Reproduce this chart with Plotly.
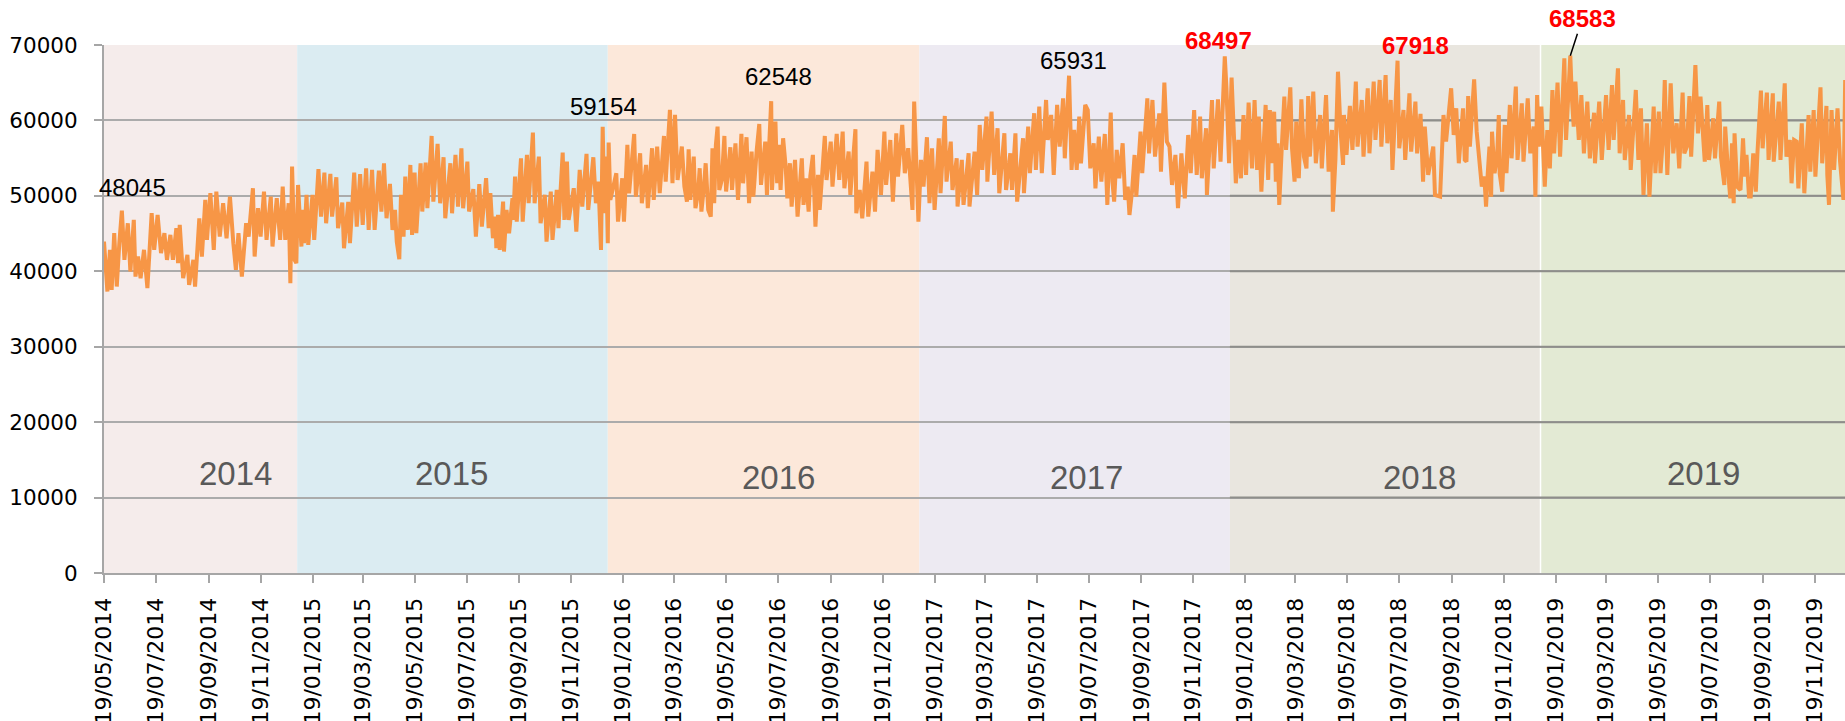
import pandas as pd
import plotly.graph_objects as go

START = pd.Timestamp("2014-05-19")

# ---- data: day offset from START and daily value (local extremes)
days_a = [0, 4, 7, 9, 12, 15, 18, 21, 24, 28, 31, 35, 37, 40, 43, 47, 51, 56, 59, 63,
          67, 71, 74, 78, 81, 85, 87, 89, 93, 98, 100, 105, 107, 112, 115, 119, 121, 125, 129, 132,
          136, 140, 144, 148, 152, 155, 158, 162, 167, 170, 175, 177, 181, 184, 188, 191, 196, 198, 203, 207,
          210, 213, 217, 219, 221, 224]
vals_a = [43940, 37320, 42840, 37540, 45050, 37980, 43720, 48045, 41510, 46370, 39970, 46810, 39300, 41950, 39080, 42840, 37760, 47700, 42840, 47480,
          42400, 45050, 41510, 44830, 41510, 45710, 41070, 46150, 39080, 42180, 38200, 41510, 37980, 47030, 41950, 49460, 44160, 50350, 42840, 50570,
          44600, 49020, 44380, 49900, 43720, 40190, 45050, 39300, 46370, 44600, 51010, 41960, 48360, 44600, 50570, 44160, 49900, 43280, 49680, 44160,
          51230, 44160, 49020, 38420, 53880, 41510]

days_b = [226, 228, 232, 233, 235, 238, 240, 245, 247, 252, 255, 259, 261, 266, 268, 273, 275, 280, 282, 287,
          289, 294, 297, 301, 304, 308, 311, 315, 318, 323, 326, 329, 332, 336, 339, 342, 344, 347, 349, 352,
          354, 357, 360, 362, 365, 367, 372, 374, 378, 380, 385, 387, 392, 395, 399, 401, 407, 409, 413, 416,
          420, 422, 427, 429, 434, 437, 441, 444, 449, 452]
vals_b = [41070, 51450, 43280, 48140, 43720, 50130, 43500, 50130, 44160, 53530, 47250, 53090, 46370, 52910, 47250, 52470, 45710, 49110, 43060, 49200,
          43720, 53090, 45930, 52870, 46150, 53660, 45490, 53440, 45490, 53350, 47920, 54320, 47030, 51580, 45490, 48140, 43940, 41600, 50130, 44600,
          52560, 45490, 54100, 44830, 53090, 45050, 54320, 47920, 54410, 48360, 57940, 49240, 56880, 49020, 55120, 47030, 54320, 47690, 55430, 48580,
          56310, 48360, 54540, 47920, 50880, 44600, 51540, 45930, 52340, 45710]

days_c = [454, 457, 460, 461, 463, 465, 469, 470, 473, 476, 480, 481, 483, 485, 490, 492, 497, 499, 504, 506,
          511, 513, 518, 520, 525, 527, 532, 534, 539, 541, 544, 546, 552, 555, 559, 562, 567, 569, 575, 578,
          581, 584, 586, 588, 590, 592, 593, 595, 602, 604, 609, 611, 615, 617, 623, 625, 630, 632, 637, 639,
          644, 646, 650, 653, 658, 660, 665, 668, 671, 674, 679, 682]
vals_c = [50350, 44380, 47250, 43060, 47470, 42840, 49240, 42620, 48140, 45050, 49680, 46810, 52560, 46590, 54980, 46590, 55430, 49020, 58390, 49020,
          55210, 46370, 50130, 43940, 50570, 44160, 50790, 45710, 55740, 46810, 54540, 46810, 51010, 45270, 53440, 48580, 55560, 48140, 55120, 49020,
          51890, 42840, 59154, 47690, 55210, 43720, 57060, 49460, 53000, 46590, 52330, 46590, 56750, 50350, 58210, 49900, 55650, 49020, 54100, 48360,
          56310, 49460, 56530, 50350, 57940, 51890, 61390, 51670, 60730, 52110, 56530, 51230]

days_d = [685, 687, 689, 693, 695, 698, 700, 702, 705, 707, 710, 713, 715, 717, 719, 721, 723, 726, 729, 731,
          736, 738, 742, 745, 749, 751, 755, 758, 761, 763, 767, 770, 772, 777, 779, 784, 785, 789, 791, 793,
          795, 798, 801, 803, 806, 808, 812, 815, 820, 822, 825, 828, 830, 833, 836, 839, 841, 847, 849, 854,
          856, 861, 864, 868, 870, 875, 877, 883, 884, 888, 891, 896, 898, 903, 906, 909, 912]
vals_d = [49240, 56180, 49460, 55200, 48360, 50350, 53660, 47920, 51230, 54320, 48140, 47250, 56310, 49020, 56750, 59180, 50790, 52110, 57940, 50570,
          56440, 50790, 56970, 49460, 58210, 51670, 57770, 49020, 55870, 49900, 56090, 59530, 51450, 57190, 50130, 62548, 50790, 59840, 51670, 56750,
          50790, 57640, 53880, 49680, 54320, 48580, 54760, 47250, 54980, 48800, 52330, 47920, 52640, 55430, 45930, 52780, 48140, 57940, 52110, 57190,
          51230, 58210, 52110, 58520, 51010, 55870, 50130, 58830, 47690, 50790, 47030, 54540, 47250, 53220, 47920, 56090, 51890]

days_e = [913, 917, 919, 924, 927, 931, 933, 938, 941, 945, 950, 952, 955, 957, 960, 963, 967, 970, 973, 976,
          981, 983, 988, 990, 995, 997, 1002, 1003, 1008, 1010, 1016, 1017, 1023, 1026, 1029, 1032, 1037, 1038, 1043, 1046,
          1050, 1052, 1058, 1060, 1065, 1067, 1071, 1073, 1080, 1081, 1086, 1088, 1093, 1095, 1099, 1102, 1107, 1109, 1113, 1116,
          1120, 1123, 1127, 1129, 1134, 1137, 1140]
vals_e = [50130, 58520, 51450, 57410, 49240, 58300, 52560, 59400, 53000, 56310, 48140, 62490, 50350, 46590, 54760, 51230, 57770, 49020, 56310, 48140,
          57630, 50350, 60590, 51890, 57190, 50790, 54980, 48580, 54760, 48800, 55650, 48580, 55870, 50130, 59400, 53440, 60510, 51890, 61170, 52780,
          58960, 50350, 58300, 50790, 55650, 50790, 58300, 49240, 57630, 50350, 59180, 53000, 60950, 53440, 61830, 53000, 62710, 57410, 60730, 52780,
          62050, 56530, 62930, 54980, 65931, 53440, 58740]

days_f = [1143, 1146, 1148, 1153, 1156, 1159, 1163, 1165, 1169, 1172, 1176, 1179, 1183, 1185, 1187, 1190, 1193, 1197, 1200, 1203,
          1205, 1208, 1211, 1213, 1218, 1220, 1226, 1228, 1232, 1235, 1240, 1242, 1246, 1249, 1252, 1255, 1259, 1262, 1266, 1270,
          1274, 1277, 1281, 1284, 1288, 1290, 1295, 1296, 1302, 1304, 1309, 1312, 1317, 1319, 1322, 1325, 1327, 1330, 1333, 1336,
          1339, 1342, 1345, 1349, 1352, 1355, 1357, 1360, 1365, 1368]
vals_f = [53430, 60500, 54320, 62050, 61380, 53650, 56970, 51000, 57850, 51890, 58200, 48800, 61030, 51890, 49240, 56090, 52330, 56970, 49460, 51230,
          47470, 50560, 55420, 49900, 58510, 53000, 62930, 55640, 62710, 55200, 60940, 53210, 65010, 57190, 56530, 51450, 55420, 48360, 55640, 49680,
          58070, 53000, 61380, 52770, 60500, 52330, 58960, 50120, 62710, 53650, 62800, 54540, 68497, 64260, 54320, 65670, 60500, 51670, 57410, 52330,
          60720, 52770, 62360, 53650, 62710, 53430, 60500, 50560, 62050, 52110]

days_g = [1370, 1372, 1375, 1377, 1379, 1381, 1384, 1387, 1389, 1394, 1396, 1399, 1401, 1404, 1407, 1410, 1413, 1415, 1417, 1421,
          1424, 1429, 1431, 1436, 1439, 1443, 1444, 1447, 1450, 1453, 1456, 1457, 1460, 1464, 1467, 1471, 1473, 1478, 1480, 1485,
          1487, 1492, 1494, 1499, 1501, 1506, 1508, 1512, 1514, 1520, 1522, 1527, 1529, 1534, 1536, 1541, 1543, 1547, 1550, 1552,
          1556, 1562, 1564, 1570, 1574, 1577, 1583, 1586, 1589, 1592, 1597, 1599]
vals_g = [61380, 54320, 61160, 51890, 56970, 48800, 56530, 63150, 56090, 64390, 56310, 51890, 59840, 52330, 62800, 55200, 53650, 63240, 55200, 63810,
          54320, 60720, 53650, 63370, 53210, 58740, 47910, 54760, 66460, 58740, 54100, 60720, 55420, 61920, 56090, 65140, 56530, 62710, 55200, 64260,
          55640, 65140, 57410, 65360, 56530, 66020, 56970, 62710, 53430, 67918, 56310, 61380, 54760, 63590, 55860, 62490, 55640, 60860, 51890, 59180,
          52770, 56530, 50120, 49900, 60720, 57190, 64260, 58070, 61610, 54320, 61610, 54760]

days_h = [1601, 1603, 1605, 1610, 1613, 1617, 1619, 1622, 1624, 1626, 1628, 1630, 1631, 1634, 1637, 1639, 1640, 1643, 1646, 1648,
          1652, 1654, 1659, 1661, 1666, 1668, 1673, 1676, 1680, 1682, 1684, 1686, 1689, 1693, 1696, 1699, 1702, 1704, 1708, 1711,
          1716, 1718, 1723, 1725, 1727, 1729, 1733, 1736, 1739, 1743, 1746, 1751, 1752, 1757, 1760, 1765, 1768, 1772, 1774, 1779,
          1781, 1785, 1787, 1792, 1794, 1800, 1803, 1806, 1809, 1813, 1816]
vals_h = [54540, 63240, 56530, 65450, 58510, 53430, 51230, 52550, 48580, 53000, 56530, 49900, 58510, 53000, 55200, 60720, 53000, 50560, 59400, 53000,
          62050, 54980, 64480, 54760, 62270, 54540, 62930, 55640, 59180, 49900, 63370, 56530, 61830, 51230, 58730, 53650, 64040, 55640, 65010, 55200,
          68230, 57410, 68583, 62710, 59180, 65140, 57410, 63370, 55640, 62490, 54980, 61030, 54320, 62490, 54760, 63370, 56090, 64700, 57410, 66910,
          55640, 62710, 54760, 60720, 53430, 64040, 54760, 61610, 50120, 59620, 49900]

days_i = [1821, 1823, 1827, 1829, 1832, 1834, 1837, 1841, 1844, 1848, 1851, 1855, 1857, 1860, 1863, 1865, 1870, 1873, 1876, 1879,
          1881, 1884, 1886, 1891, 1893, 1898, 1900, 1904, 1905, 1908, 1911, 1913, 1915, 1916, 1919, 1923, 1926, 1928, 1930, 1933,
          1935, 1938, 1941, 1943, 1947, 1949, 1954, 1956, 1961, 1962, 1968, 1970, 1975, 1977, 1981, 1983, 1986, 1989, 1991, 1995,
          1998, 2003, 2005, 2009, 2011, 2017, 2019, 2024, 2025, 2027, 2030, 2033, 2037, 2040, 2044, 2046]
vals_i = [61830, 53000, 61160, 53000, 57850, 65360, 52770, 64920, 55640, 59620, 53650, 63680, 55640, 56530, 63240, 55200, 67350, 58290, 63150, 56530,
          54540, 62050, 54760, 60280, 54980, 62490, 55200, 51450, 59180, 53880, 49680, 56970, 49020, 58290, 51230, 50780, 57630, 52550, 55420, 49900,
          49900, 55640, 50560, 55860, 63950, 56310, 63680, 54760, 63590, 54540, 62490, 54760, 64920, 55200, 57410, 51670, 57410, 57190, 51000, 59620,
          50340, 60720, 53210, 61380, 52550, 64390, 54320, 61920, 52770, 48800, 61380, 53430, 61610, 54540, 49460, 65360]

YEARS = ["2014", "2015", "2016", "2017", "2018", "2019"]
YEAR_STARTS = ["2014-01-01", "2015-01-01", "2016-01-01", "2017-01-01", "2018-01-01", "2019-01-01", "2020-01-01"]
TICK_DATES = ["2014-05-19", "2014-07-19", "2014-09-19", "2014-11-19",
              "2015-01-19", "2015-03-19", "2015-05-19", "2015-07-19", "2015-09-19", "2015-11-19",
              "2016-01-19", "2016-03-19", "2016-05-19", "2016-07-19", "2016-09-19", "2016-11-19",
              "2017-01-19", "2017-03-19", "2017-05-19", "2017-07-19", "2017-09-19", "2017-11-19",
              "2018-01-19", "2018-03-19", "2018-05-19", "2018-07-19", "2018-09-19", "2018-11-19",
              "2019-01-19", "2019-03-19", "2019-05-19", "2019-07-19", "2019-09-19", "2019-11-19"]
BLACK_PEAKS = [48045, 59154, 62548, 65931]
RED_PEAKS = [68497, 67918]
ARROW_PEAK = 68583

# ---- styling / layout (not data)
YEAR_COLORS = ["#F5ECEB", "#DBECF2", "#FCE8DA", "#EDEAF2", "#E9E6DF", "#E3EAD4"]
YEAR_LABEL_POS = [("2014-10-20", 13160), ("2015-07-01", 13160), ("2016-07-19", 12630),
                  ("2017-07-16", 12630), ("2018-08-12", 12630), ("2019-07-12", 13160)]
BLACK_SHIFT = [(11, 23), (1, 20), (7, 25), (4, 15)]
RED_SHIFT = [(-6, 16), (18, 15)]
X_END_DAYS = 2045.8
Y_MAX, Y_STEP = 70000, 10000

days = days_a + days_b + days_c + days_d + days_e + days_f + days_g + days_h + days_i
vals = vals_a + vals_b + vals_c + vals_d + vals_e + vals_f + vals_g + vals_h + vals_i
assert len(days) == len(vals)
dates = [START + pd.Timedelta(days=d) for d in days]
lookup = dict(zip(vals, dates))

fig = go.Figure()
fig.add_trace(go.Scatter(x=dates, y=vals, mode="lines",
                         line=dict(color="#F79646", width=4), hoverinfo="x+y"))

shapes = []
for i, c in enumerate(YEAR_COLORS):
    shapes.append(dict(type="rect", xref="x", yref="paper", x0=YEAR_STARTS[i], x1=YEAR_STARTS[i + 1],
                       y0=0, y1=1, fillcolor=c, line=dict(width=0), layer="below"))
# darker gridlines over the 2018-2019 bands
for g in range(Y_STEP, Y_MAX, Y_STEP):
    shapes.append(dict(type="line", xref="x", yref="y", x0=YEAR_STARTS[4], x1=YEAR_STARTS[6],
                       y0=g, y1=g, line=dict(color="#8E8E8A", width=2), layer="between"))
shapes.append(dict(type="line", xref="x", yref="paper", x0=YEAR_STARTS[5], x1=YEAR_STARTS[5],
                   y0=0, y1=1, line=dict(color="white", width=1.5), layer="between"))

ann = []
for (d, y), t in zip(YEAR_LABEL_POS, YEARS):
    ann.append(dict(x=d, y=y, xref="x", yref="y", text=t, showarrow=False,
                    font=dict(family="Liberation Sans, Arial", size=33, color="#595959")))
for v, (sx, sy) in zip(BLACK_PEAKS, BLACK_SHIFT):
    ann.append(dict(x=lookup[v], y=v, xref="x", yref="y", text=str(v), showarrow=False,
                    xshift=sx, yshift=sy, font=dict(family="Liberation Sans, Arial", size=24, color="black")))
for v, (sx, sy) in zip(RED_PEAKS, RED_SHIFT):
    ann.append(dict(x=lookup[v], y=v, xref="x", yref="y", text="<b>%d</b>" % v, showarrow=False,
                    xshift=sx, yshift=sy, font=dict(family="Liberation Sans, Arial", size=24, color="#FF0000")))
ann.append(dict(x=lookup[ARROW_PEAK], y=ARROW_PEAK, xref="x", yref="y", text="<b>%d</b>" % ARROW_PEAK,
                showarrow=True, arrowhead=0, arrowwidth=1.5, arrowcolor="black", ax=12, ay=-37,
                font=dict(family="Liberation Sans, Arial", size=24, color="#FF0000")))

fig.update_layout(
    width=1845, height=721,
    margin=dict(l=104, r=0, t=45, b=148, autoexpand=False),
    paper_bgcolor="white", plot_bgcolor="white",
    showlegend=False, shapes=shapes, annotations=ann,
    xaxis=dict(type="date", range=[START, START + pd.Timedelta(days=X_END_DAYS)],
               tickvals=TICK_DATES,
               ticktext=[pd.Timestamp(t).strftime("%d/%m/%Y") for t in TICK_DATES],
               tickangle=-90, ticks="outside", ticklen=8, tickwidth=2, tickcolor="#A6A6A6",
               showgrid=False, showline=True, linecolor="#A6A6A6", linewidth=2,
               tickfont=dict(family="DejaVu Sans", size=22, color="black"),
               ticklabelstandoff=6, automargin=False),
    yaxis=dict(range=[0, Y_MAX], dtick=Y_STEP, tickformat="d",
               showgrid=True, gridcolor="#ABABAB", gridwidth=2, zeroline=False,
               showline=True, linecolor="#A6A6A6", linewidth=2,
               ticks="outside", ticklen=8, tickwidth=2, tickcolor="#A6A6A6",
               tickfont=dict(family="DejaVu Sans", size=21.5, color="black"),
               ticklabelstandoff=12, automargin=False),
)

fig.write_html("out.html", config={"displayModeBar": False},
               post_script="document.body.style.margin='0';document.body.style.overflow='hidden';")
